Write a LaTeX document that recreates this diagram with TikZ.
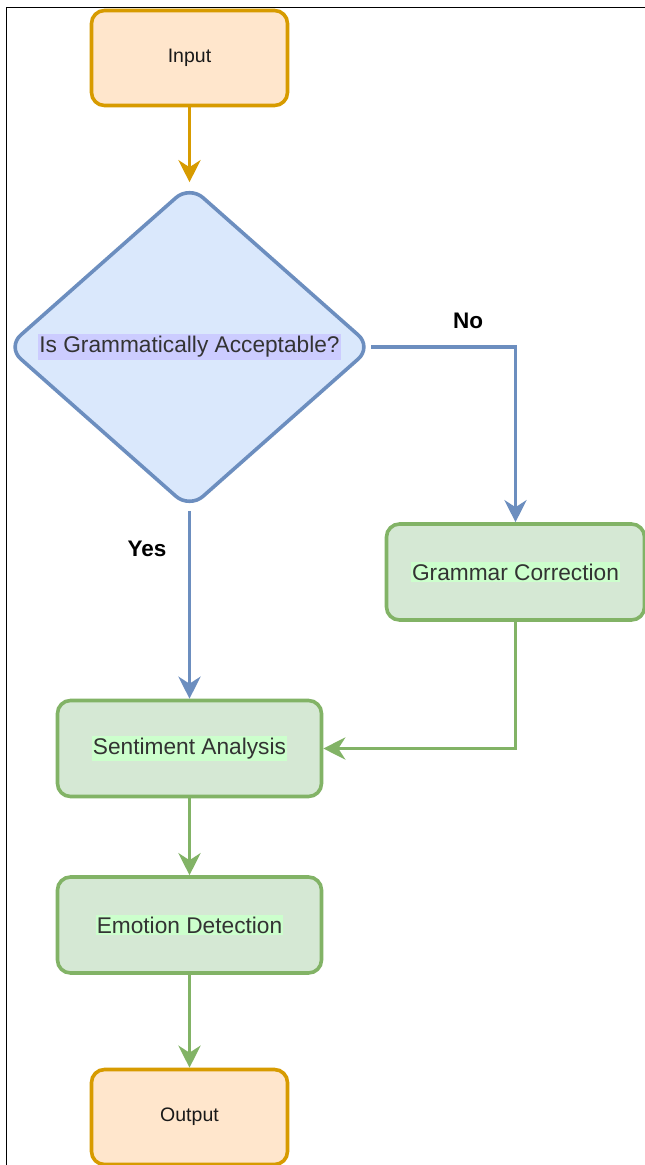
\documentclass[tikz,border=0pt]{standalone}
\usepackage{fontspec}
\setmainfont{Liberation Sans}
\usetikzlibrary{shapes.geometric,arrows.meta}
\definecolor{ostroke}{HTML}{D79B00}
\definecolor{ofill}{HTML}{FFE6CC}
\definecolor{bstroke}{HTML}{6C8EBF}
\definecolor{bfill}{HTML}{DAE8FC}
\definecolor{gstroke}{HTML}{82B366}
\definecolor{gfill}{HTML}{D5E8D4}
\definecolor{hlblue}{HTML}{CCCCFF}
\definecolor{hlgreen}{HTML}{CCFFCC}
\definecolor{txt}{HTML}{333333}
\begin{document}
\begin{tikzpicture}[x=1pt,y=-1pt,
  termbox/.style={draw=ostroke,fill=ofill,line width=3.6pt,rounded corners=13pt,
    minimum width=196pt,minimum height=95pt,inner sep=0pt,
    font=\fontsize{19.5}{23}\selectfont,text=black!90},
  procbox/.style={draw=gstroke,fill=gfill,line width=3.6pt,rounded corners=13pt,
    minimum height=96pt,inner sep=0pt},
  decbox/.style={diamond,draw=bstroke,fill=bfill,line width=3.6pt,rounded corners=18pt,
    minimum width=366pt,minimum height=324pt,inner sep=0pt},
  hltext/.style={fill=#1,inner xsep=1pt,inner ysep=2pt,text=txt,
    font=\fontsize{22.7}{26}\selectfont},
  lbl/.style={font=\fontsize{22.5}{26}\selectfont\bfseries,text=black},
  tip/.style={-{Stealth[length=22pt,width=22pt,inset=7pt]}},
  oarrow/.style={draw=ostroke,line width=3.6pt,tip},
  barrow/.style={draw=bstroke,line width=3.6pt,tip},
  garrow/.style={draw=gstroke,line width=3.6pt,tip},
  frame/.style={draw=black,line width=1pt}
]
\useasboundingbox (0,0) rectangle (645,1165);
\fill[white] (0,0) rectangle (645,1165);
% frame
\coordinate (fr1) at (6,1165);
\coordinate (fr2) at (6,7);
\coordinate (fr3) at (645,7);
\draw[frame] (fr1) -- (fr2) -- (fr3);

% nodes
\node[termbox] (in) at (189.5,58) {Input};
\node[decbox] (dec) at (189.5,347) {};
\node[hltext=hlblue] (dect) at (189.5,347) {Is Grammatically Acceptable?};
\node[procbox,minimum width=258pt] (gc) at (515.5,572) {};
\node[hltext=hlgreen] (gct) at (515.5,572) {Grammar Correction};
\node[procbox,minimum width=264pt] (sa) at (189.5,748.5) {};
\node[hltext=hlgreen] (sat) at (189.5,748.5) {Sentiment Analysis};
\node[procbox,minimum width=264pt] (ed) at (189.5,925) {};
\node[hltext=hlgreen] (edt) at (189.5,925) {Emotion Detection};
\node[termbox] (out) at (189.5,1117) {Output};

\node[lbl] (no) at (468,321) {No};
\node[lbl] (yes) at (147,549) {Yes};

% connectors
\draw[oarrow,shorten >=1pt] (in.south) -- (dec.north);
\draw[barrow,shorten <=-3pt] (dec.east) -| (gc.north);
\draw[barrow,shorten <=0pt] (dec.south) -- (sa.north);
\draw[garrow] (gc.south) |- (sa.east);
\draw[garrow] (sa.south) -- (ed.north);
\draw[garrow] (ed.south) -- (out.north);
\end{tikzpicture}
\end{document}
